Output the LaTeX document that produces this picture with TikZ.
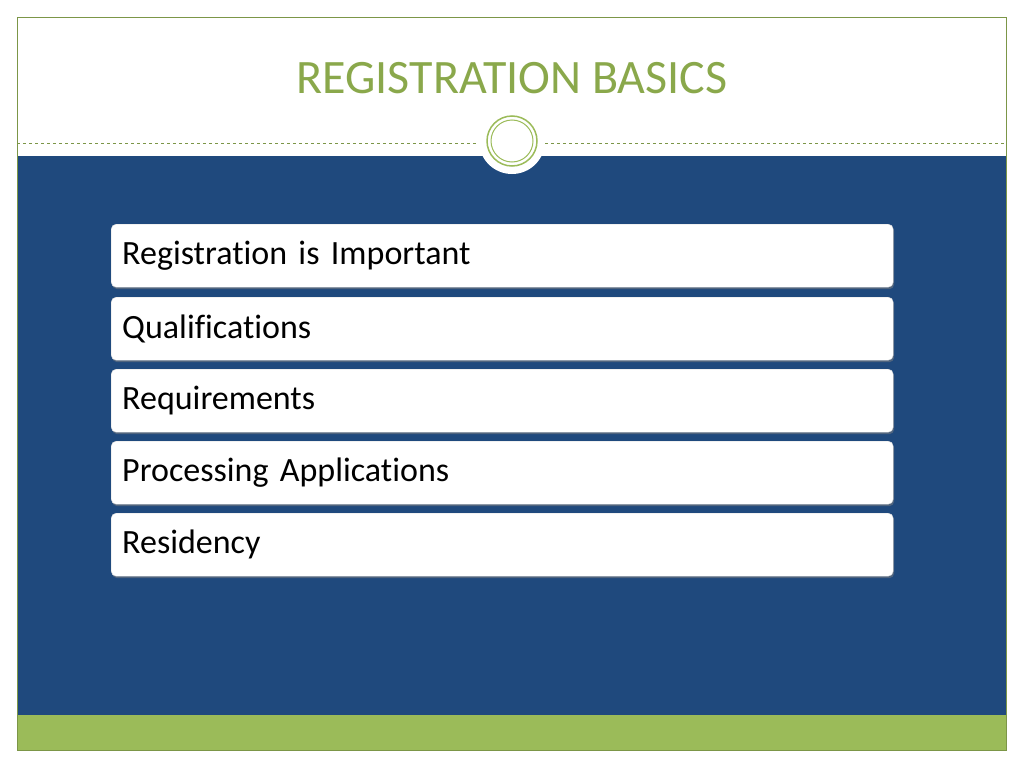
\documentclass[tikz,border=0pt]{standalone}
\usepackage{fontspec}
\setmainfont{Carlito}[Ligatures=NoCommon]
\definecolor{navy}{HTML}{1F497D}
\definecolor{leaf}{HTML}{9BBB59}
\definecolor{titlegreen}{HTML}{8AA84B}
\usetikzlibrary{shadows}
\tikzset{item/.style={draw=black!15,fill=white,rounded corners=5pt,minimum width=781pt,minimum height=63pt,anchor=north west,text width=760pt,align=left,inner xsep=11pt,font=\fontsize{34}{38}\selectfont,drop shadow={shadow xshift=1pt,shadow yshift=-2pt,opacity=0.5}}}
\begin{document}
\begin{tikzpicture}[x=1pt,y=-1pt]
\useasboundingbox (0,0) rectangle (1024,768);
\fill[white] (0,0) rectangle (1024,768);
\fill[navy] (17,156) rectangle (1006,715);
\fill[leaf] (17,715) rectangle (1006,750);
\draw[leaf!80!black,line width=0.6pt] (17,17) rectangle (1006,750);
\draw[leaf!80!black,dashed,line width=0.5pt] (17,143) -- (1006,143);
\node[font=\fontsize{48}{52}\selectfont,text=titlegreen] (title) at (512,78) {REGISTRATION BASICS};
\fill[white] (512,141) circle (33);
\draw[leaf,line width=1.5pt] (512,141) circle (25);
\draw[leaf,line width=1pt] (512,141) circle (21);
\node[item] (b1) at (111,224) {Registration is Important};
\node[item] (b2) at (111,297) {Qualifications};
\node[item] (b3) at (111,369) {Requirements};
\node[item] (b4) at (111,441) {Processing Applications};
\node[item] (b5) at (111,513) {Residency};
\end{tikzpicture}
\end{document}
